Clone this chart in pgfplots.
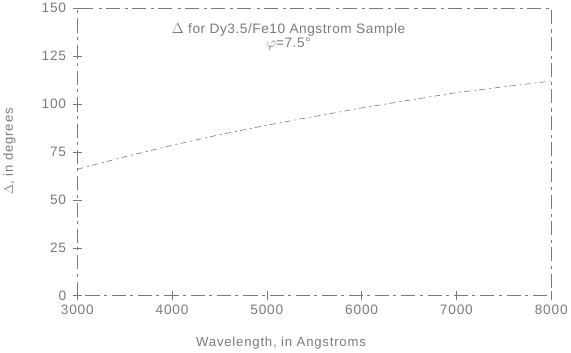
\documentclass[border=0pt]{standalone}
\usepackage{pgfplots}
\pgfplotsset{compat=1.18}
\usepackage{fontspec}
\setmainfont{Liberation Sans}
\newfontfamily\tfont[LetterSpace=6]{Liberation Sans}
\newfontfamily\lfont[LetterSpace=6]{Liberation Sans}
\newfontfamily\hfont[LetterSpace=4]{Liberation Sans}
\definecolor{ink}{HTML}{7A7A7A}
\begin{document}
\begin{tikzpicture}
\begin{axis}[
  scale only axis,
  width=468pt, height=284pt,
  xmin=3000, xmax=8000, ymin=0, ymax=150,
  xtick={3000,4000,...,8000},
  ytick={0,25,...,150},
  xticklabels={3000,4000,5000,6000,7000,8000},
  yticklabels={0,25,50,75,100,125,150},
  tick pos=left,
  tick align=center,
  major tick length=9pt,
  every tick/.style={ink, line width=0.6pt},
  axis line style={ink, line width=0.7pt, dash pattern=on 14pt off 5pt on 3pt off 4pt},
  tick label style={font=\tfont\fontsize{13.5}{15}\selectfont, text=ink},
  yticklabel style={xshift=-3pt},
  xticklabel style={yshift=-1pt},
  xlabel={Wavelength, in Angstroms},
  ylabel={$\Delta$, in degrees},
  every axis y label/.style={at={(axis description cs:-0.143,0.503)}, rotate=90, anchor=center, font=\lfont\fontsize{13}{15}\selectfont, text=ink},
  every axis x label/.style={at={(axis description cs:0.43,-0.165)}, anchor=center, font=\lfont\fontsize{13}{15}\selectfont, text=ink},
  clip=false,
]
\addplot[ink, line width=0.6pt, dash pattern=on 6pt off 4pt on 2pt off 3pt] coordinates {
 (3000,66) (3500,72.5) (4000,78.5) (4500,84) (5000,89) (5500,93.5) (6000,98)
 (6500,102) (7000,106) (7500,109) (8000,112)
};
\node[font=\hfont\fontsize{13.5}{15}\selectfont, text=ink, align=center, anchor=north] at (axis cs:5230,144) {$\Delta$ for Dy3.5/Fe10 Angstrom Sample\\[-1pt] $\varphi$=7.5\textdegree};
\end{axis}
\end{tikzpicture}
\end{document}
